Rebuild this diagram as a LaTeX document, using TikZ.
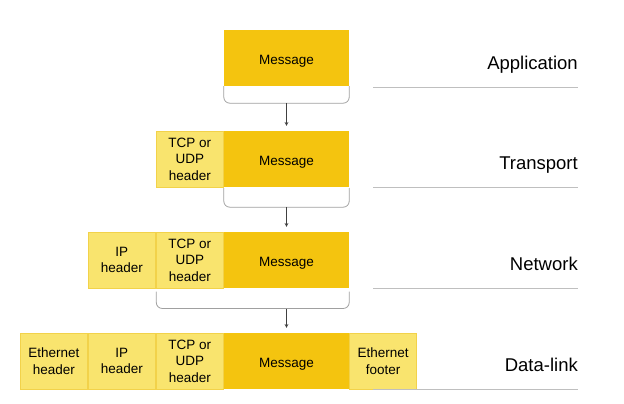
\documentclass[tikz,border=0pt]{standalone}
\usepackage{fontspec}
\setmainfont{Liberation Sans}
\usepackage{tikz}
\usetikzlibrary{positioning}
\definecolor{msgyel}{HTML}{F4C40F}
\definecolor{hdryel}{HTML}{F9E46E}
\definecolor{hdrline}{HTML}{F2D24A}
\definecolor{brgray}{HTML}{A0A0A0}
\tikzstyle{msg} = [rectangle, fill=msgyel, minimum width=125pt, minimum height=56pt, inner sep=0pt, text height=12.7pt, text depth=0pt, font=\fontsize{13.5}{16.5}\selectfont]
\tikzstyle{hdr} = [rectangle, fill=hdryel, draw=hdrline, line width=1pt, minimum width=67pt, minimum height=56pt, inner sep=0pt, align=center, font=\fontsize{13.5}{16.5}\selectfont]
\tikzstyle{layer} = [anchor=base east, inner sep=0pt, font=\fontsize{18.5}{22}\selectfont]
\tikzstyle{rule} = [gray!50, line width=0.8pt]
\tikzstyle{brace} = [brgray, line width=0.8pt, rounded corners=6pt]
\tikzstyle{down} = [black!75, line width=0.7pt, -stealth, shorten >=5pt]

\begin{document}
\begin{tikzpicture}[x=1pt,y=-1pt]
			\useasboundingbox (0,0) rectangle (624,404);
			% application
			\node[msg] (msgA) at (286.5,58) {Message};
			% transport
			\node[msg] (msgB) at (286.5,159) {Message};
			\node[hdr,left=0pt of msgB] (tcpB) {TCP or\\UDP\\header};
			% network
			\node[msg] (msgC) at (286.5,260) {Message};
			\node[hdr,left=0pt of msgC] (tcpC) {TCP or\\UDP\\header};
			\node[hdr,left=0pt of tcpC] (ipC) {IP\\header};
			% data-link
			\node[msg] (msgD) at (286.5,361) {Message};
			\node[hdr,left=0pt of msgD] (tcpD) {TCP or\\UDP\\header};
			\node[hdr,left=0pt of tcpD] (ipD) {IP\\header};
			\node[hdr,left=0pt of ipD] (ethD) {Ethernet\\header};
			\node[hdr,right=0pt of msgD] (ftrD) {Ethernet\\footer};
			% brackets and arrows
			\draw[brace] (msgA.south west) -- ++(0,17) coordinate (bA) -- (bA -| msgA.south east) -- (msgA.south east);
			\coordinate (bAm) at (bA -| msgA.south);
			\draw[down] (bAm) -- (bAm |- msgB.north);
			\draw[brace] (msgB.south west) ++(0,1) -- ++(0,19) coordinate (bB) -- (bB -| msgB.south east) -- ++(0,-19);
			\coordinate (bBm) at (bB -| msgB.south);
			\draw[down] (bBm) -- (bBm |- msgC.north);
			\draw[brace] (tcpC.south west) ++(0.5,3) -- ++(0,17) coordinate (bC) -- (bC -| msgC.south east) -- ++(0,-17);
			\coordinate (bCm) at (bC -| msgC.south);
			\draw[down] (bCm) -- (bCm |- msgD.north);
			% layer names
			\draw[rule] (373,87) coordinate (rA) -- (578,87);
			\draw[rule] (373,187) coordinate (rB) -- (578,187);
			\draw[rule] (373,288) coordinate (rC) -- (578,288);
			\draw[rule] (373,389) coordinate (rD) -- (578,389);
			\node[layer] (app) at (578,69.5) {Application};
			\node[layer] (trn) at (578,169.5) {Transport};
			\node[layer] (net) at (578,270.5) {Network};
			\node[layer] (dl) at (578,371.5) {Data-link};
		\end{tikzpicture}
\end{document}
